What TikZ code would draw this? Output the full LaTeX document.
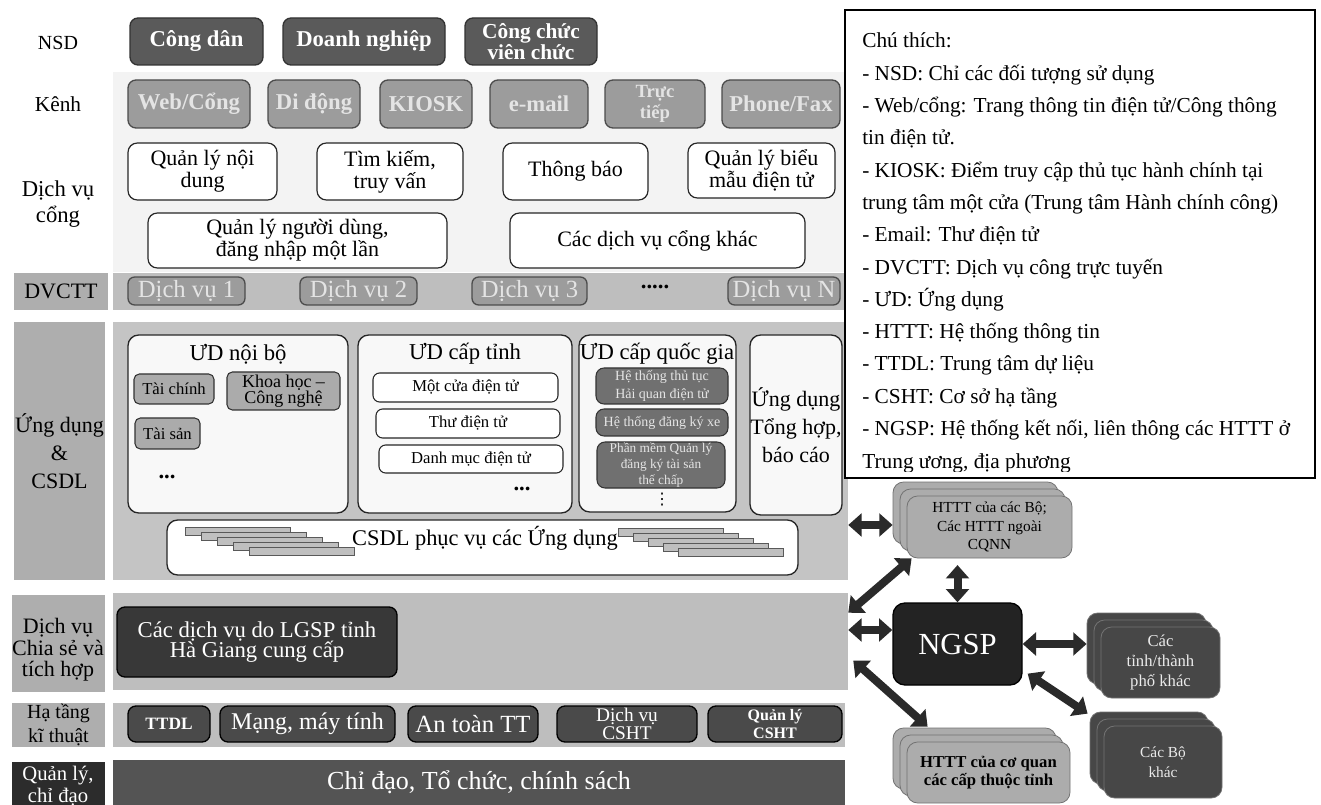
\documentclass[tikz,border=0pt]{standalone}
\usepackage{fontspec}
\setmainfont{Liberation Serif}
\newfontfamily\dejavu{DejaVu Sans}
\usetikzlibrary{calc,arrows.meta}
\newcommand{\fsz}[2]{\fontsize{#1}{#2}\selectfont}
\definecolor{cDark}{HTML}{5A5A5A}
\definecolor{cMid}{HTML}{9C9C9C}
\definecolor{cMidText}{HTML}{E4E4E4}
\definecolor{cBar}{HTML}{BEBEBE}
\definecolor{cBarApp}{HTML}{C4C4C4}
\definecolor{cLabel}{HTML}{AEAEAE}
\definecolor{cPale}{HTML}{F8F8F8}
\definecolor{cSmall}{HTML}{ABABAB}
\definecolor{cNat}{HTML}{707070}
\definecolor{cLGSP}{HTML}{383838}
\definecolor{cInfra}{HTML}{4A4A4A}
\definecolor{cMgmt}{HTML}{545454}
\definecolor{cMgmtLbl}{HTML}{2C2C2C}
\definecolor{cNGSP}{HTML}{232323}
\definecolor{cExtDark}{HTML}{474747}
\definecolor{cExtLight}{HTML}{ACACAC}
\definecolor{cArrow}{HTML}{2A2A2A}
\definecolor{cFaint}{HTML}{F3F3F3}
\newcommand{\boxat}[7]{%
  \pgfmathsetmacro{\bxw}{(#5-#3)*0.75}\pgfmathsetmacro{\bxh}{(#6-#4)*0.75}%
  \pgfmathsetmacro{\bxcx}{(#3+#5)/2}\pgfmathsetmacro{\bxcy}{(#4+#6)/2}%
  \node[minimum width=\bxw pt, minimum height=\bxh pt, #2] (#1) at (\bxcx,\bxcy) {#7};}
\newcommand{\stackat}[7]{%
  \pgfmathsetmacro{\sxa}{#3+7}\pgfmathsetmacro{\sxb}{#3+14}%
  \pgfmathsetmacro{\sya}{#4+7}\pgfmathsetmacro{\syb}{#4+14}%
  \pgfmathsetmacro{\sxc}{#5-7}\pgfmathsetmacro{\sxd}{#5-14}%
  \pgfmathsetmacro{\syc}{#6-7}\pgfmathsetmacro{\syd}{#6-14}%
  \boxat{#1-b}{#2}{#3}{#4}{\sxd}{\syd}{}
  \boxat{#1-m}{#2}{\sxa}{\sya}{\sxc}{\syc}{}
  \boxat{#1}{#2}{\sxb}{\syb}{#5}{#6}{#7}}
\tikzset{
  every node/.style={inner sep=0pt},
  lbl/.style={align=center, font=\fsz{16}{20}},
  rowlbl/.style={fill=#1, align=center, font=\fsz{16.5}{20}},
  bar/.style={fill=#1},
  nsdbox/.style={rounded corners=6pt, draw=black!80, line width=1pt, fill=cDark, text=white, font=\bfseries\fsz{17}{15}, align=center},
  chbox/.style={rounded corners=6pt, draw=black!70, line width=1pt, fill=cMid, text=cMidText, font=\bfseries\fsz{17}{13}, align=center},
  wbox/.style={rounded corners=7pt, draw=black!85, line width=0.9pt, fill=white, font=\fsz{16.5}{16.5}, align=center},
  dvbox/.style={rounded corners=5pt, draw=black!70, line width=1pt, fill=cMid, text=cMidText, font=\fsz{18.5}{18}},
  panel/.style={rounded corners=8pt, draw=black!85, line width=1pt, fill=cPale},
  ttl/.style={font=\fsz{17}{19}},
  smbox/.style={rounded corners=4pt, draw=black!80, line width=0.8pt, fill=cSmall, font=\fsz{12.5}{12}, align=center},
  wsmbox/.style={rounded corners=5pt, draw=black!85, line width=0.8pt, fill=white, font=\fsz{12.5}{13}},
  natbox/.style={rounded corners=6pt, draw=black!80, line width=0.8pt, fill=cNat, text=white!90!black, font=\fsz{10.5}{13}, align=center},
  dkbox/.style={rounded corners=6pt, draw=black, line width=1pt, fill=#1, text=white, align=center},
  extbox/.style={rounded corners=8pt, draw=black!55, line width=0.6pt, fill=#1, align=center},
  slab/.style={fill=gray!50, draw=black!65, line width=0.4pt},
  biarrow/.style={draw=cArrow, line width=6pt, <->, >={Triangle[length=10pt,width=17pt]}},
  legtxt/.style={anchor=base west, font=\fsz{16}{18}},
}
\begin{document}
\begin{tikzpicture}[x=0.75pt,y=-0.75pt]
\useasboundingbox (0,0) rectangle (1321,805);
\clip (0,0) rectangle (1321,805);
\fill[white] (0,0) rectangle (1321,805);
\fill[cFaint] (113,72) rectangle (845,136);
\fill[cFaint] (113,136) rectangle (845,272);

% ---- row labels (top) ----
\node[lbl, font=\fsz{15}{18}] (lNSD) at (58,43) {NSD};
\node[lbl] (lKenh) at (58,104) {Kênh};
\node[lbl, font=\fsz{17}{20}] (lDVC) at (58,204) {Dịch vụ\\cổng};

% ---- row bars and labels ----
\boxat{rDV}{bar=cBar}{113}{273}{848}{310}{}
\boxat{rApp}{bar=cBarApp}{113}{322}{848}{580}{}
\boxat{rShare}{bar=cBar}{113}{593}{848}{690}{}
\boxat{rInfra}{bar=cBar}{113}{703}{845}{747}{}
\boxat{rMgmt}{bar=cMgmt}{113}{760}{845}{808}{}
\node[text=white, font=\fsz{19.5}{20}] (mgmtt) at (479,782) {Chỉ đạo, Tổ chức, chính sách};

\boxat{lDV}{rowlbl=cLabel}{14}{273}{108}{310}{DVCTT}
\boxat{lApp}{rowlbl=cLabel, font=\fsz{16.5}{21}}{14}{322}{105}{580}{Ứng dụng\\\&\\CSDL}
\boxat{lShare}{rowlbl=cLabel}{12}{595}{105}{692}{}
\node[align=center, font=\fsz{16.5}{16}] (lSharet) at (58,650) {Dịch vụ\\Chia sẻ và\\tích hợp};
\boxat{lInfra}{rowlbl=cLabel, font=\fsz{15}{18}}{12}{703}{105}{747}{Hạ tầng\\kĩ thuật}
\boxat{lMgmt}{rowlbl=cMgmtLbl}{12}{762}{105}{808}{}
\node[align=center, text=white, font=\fsz{15.5}{16}] (lMgmtt) at (58,786) {Quản lý,\\chỉ đạo};

% ---- NSD ----
\boxat{cdan}{nsdbox}{130}{18}{263}{65}{Công dân}
\boxat{dnghiep}{nsdbox}{283}{18}{445}{65}{Doanh nghiệp}
\boxat{ccvc}{nsdbox, font=\bfseries\fsz{16}{16}}{465}{18}{597}{65}{Công chức\\viên chức}

% ---- Kenh ----
\boxat{web}{chbox}{128}{80}{250}{128}{Web/Cổng}
\boxat{didong}{chbox}{268}{80}{360}{128}{Di động}
\boxat{kiosk}{chbox}{380}{80}{472}{128}{KIOSK}
\boxat{email}{chbox}{490}{80}{588}{128}{e-mail}
\boxat{tructiep}{chbox, font=\bfseries\fsz{14}{16}}{605}{80}{705}{128}{Trực\\tiếp}
\boxat{fax}{chbox}{722}{80}{840}{128}{Phone/Fax}

% ---- Dich vu cong ----
\boxat{qlnd}{wbox}{128}{143}{277}{200}{Quản lý nội\\dung}
\boxat{timkiem}{wbox}{317}{143}{463}{200}{Tìm kiếm,\\truy vấn}
\boxat{thongbao}{wbox}{503}{143}{648}{200}{Thông báo}
\boxat{qlbm}{wbox}{688}{143}{835}{198}{Quản lý biểu\\mẫu điện tử}
\boxat{qlnd2}{wbox}{148}{213}{447}{268}{Quản lý người dùng,\\đăng nhập một lần}
\boxat{dvkhac}{wbox}{510}{213}{805}{268}{Các dịch vụ cổng khác}

% ---- DVCTT ----
\boxat{dv1}{dvbox}{128}{277}{245}{305}{Dịch vụ 1}
\boxat{dv2}{dvbox}{300}{277}{417}{305}{Dịch vụ 2}
\boxat{dv3}{dvbox}{472}{277}{587}{305}{Dịch vụ 3}
\node[font=\bfseries\fsz{17}{17}] (dvdots) at (655,287) {.....};
\boxat{dvn}{dvbox}{728}{277}{840}{305}{Dịch vụ N}

% ---- Ung dung ----
\boxat{udnb}{panel}{128}{335}{348}{513}{}
\node[ttl] (udnbt) at (238,354) {ƯD nội bộ};
\boxat{taichinh}{smbox}{134}{374}{214}{404}{Tài chính}
\boxat{khcn}{smbox, font=\fsz{13.5}{12}}{227}{372}{340}{410}{Khoa học –\\Công nghệ}
\boxat{taisan}{smbox}{135}{418}{200}{449}{Tài sản}
\node[font=\bfseries\fsz{17}{17}] (udnbdots) at (167,477) {...};

\boxat{udct}{panel}{358}{335}{572}{513}{}
\node[ttl] (udctt) at (465,354) {ƯD cấp tỉnh};
\boxat{motcua}{wsmbox}{373}{373}{558}{402}{Một cửa điện tử}
\boxat{thudt}{wsmbox}{376}{409}{560}{438}{Thư điện tử}
\boxat{danhmuc}{wsmbox}{379}{445}{563}{473}{Danh mục điện tử}
\node[font=\bfseries\fsz{17}{17}] (udctdots) at (522,489) {...};

\boxat{udqg}{panel}{579}{335}{736}{512}{}
\node[ttl] (udqgt) at (657,354) {ƯD cấp quốc gia};
\boxat{haiquan}{natbox}{596}{368}{728}{404}{Hệ thống thủ tục\\Hải quan điện tử}
\boxat{dangkyxe}{natbox}{596}{409}{728}{436}{Hệ thống đăng ký xe}
\boxat{tsan}{natbox, font=\fsz{10}{12}}{597}{442}{725}{488}{Phần mềm Quản lý\\đăng ký tài sản\\thế chấp}
\node[font=\dejavu\fsz{12}{12}] (udqgdots) at (662,500) {⋮};

\boxat{udth}{panel, font=\fsz{16.5}{21}, align=center}{750}{335}{842}{515}{Ứng dụng\\Tổng hợp,\\báo cáo}

% ---- CSDL ----
\boxat{csdl}{panel, fill=white}{167}{520}{798}{575}{}
\foreach \i in {0,...,4}{
  \draw[slab] ({185+16*\i},{527+5*\i}) rectangle ++(105,8);
  \draw[slab] ({618+15*\i},{528+5*\i}) rectangle ++(105,8);
}
\node[font=\fsz{16.8}{18}] (csdlt) at (485,538) {CSDL phục vụ các Ứng dụng};

% ---- Share ----
\boxat{lgsp}{dkbox=cLGSP, font=\fsz{17}{15.5}}{117}{607}{397}{677}{Các dịch vụ do LGSP tỉnh\\Hà Giang cung cấp}

% ---- Infra ----
\boxat{ttdl}{dkbox=cInfra, font=\bfseries\fsz{13}{13}}{128}{706}{210}{742}{TTDL}
\boxat{mang}{dkbox=cInfra, font=\fsz{18}{18}}{220}{706}{395}{742}{Mạng, máy tính}
\boxat{antoan}{dkbox=cInfra, font=\fsz{18.5}{18}}{408}{706}{538}{742}{An toàn TT}
\boxat{dvcsht}{dkbox=cInfra, font=\fsz{14.5}{13}}{557}{706}{697}{742}{Dịch vụ\\CSHT}
\boxat{qlcsht}{dkbox=cInfra, font=\bfseries\fsz{12}{13}}{708}{706}{842}{742}{Quản lý\\CSHT}

% ---- right network ----
\stackat{httb}{extbox=cExtLight, font=\fsz{11.5}{14}}{893}{482}{1072}{558}{HTTT của các Bộ;\\Các HTTT ngoài\\CQNN}
\boxat{ngsp}{dkbox=cNGSP, rounded corners=9pt, font=\fsz{23}{23}}{893}{603}{1022}{685}{NGSP}
\stackat{tinh}{extbox=cExtDark, text=white!92!black, font=\fsz{12.5}{15}}{1087}{613}{1220}{698}{Các\\tỉnh/thành\\phố khác}
\stackat{bo}{extbox=cExtDark, text=white!92!black, font=\fsz{11.5}{15}}{1090}{712}{1222}{798}{Các Bộ\\khác}
\stackat{httc}{extbox=cExtLight, font=\bfseries\fsz{12.5}{14}}{893}{728}{1070}{803}{HTTT của cơ quan\\các cấp thuộc tỉnh}

% ---- arrows ----
\coordinate (a1) at ($(httb-b.west)+(0,12)$);
\draw[biarrow] (rApp.east |- a1) -- (a1);
\draw[biarrow] ($(rShare.north east)+(0,20)$) -- ($(httb.south west)+(5,0)$);
\draw[biarrow, shorten <=5pt] (ngsp.north |- httb.south) -- (ngsp.north);
\coordinate (a4) at ($(ngsp.west)+(0,-14)$);
\draw[biarrow] (rShare.east |- a4) -- (a4);
\draw[biarrow] ($(rShare.east)+(5,19)$) -- ($(httc-b.north west)+(35,-1)$);
\draw[biarrow] (ngsp.east) -- (ngsp.east -| tinh-b.west);
\draw[biarrow] ($(ngsp.south east)+(5,-12)$) -- ($(bo-b.north west)+(-2,2)$);

% ---- legend ----
\boxat{legend}{fill=white, draw=black, line width=0.9pt}{845}{10}{1315}{478}{}
\begin{scope}
\clip (846,11) rectangle (1314,471);
\node[legtxt] (lg0) at (862,48) {Chú thích:};
\node[legtxt] (lg1) at (862,80.3) {- NSD: Chỉ các đối tượng sử dụng};
\node[legtxt] (lg2) at (862,112.6) {- Web/cổng: Trang thông tin điện tử/Công thông};
\node[legtxt] (lg3) at (862,144.9) {tin điện tử.};
\node[legtxt] (lg4) at (862,177.2) {- KIOSK: Điểm truy cập thủ tục hành chính tại};
\node[legtxt] (lg5) at (862,209.5) {trung tâm một cửa (Trung tâm Hành chính công)};
\node[legtxt] (lg6) at (862,241.8) {- Email: Thư điện tử};
\node[legtxt] (lg7) at (862,274.1) {- DVCTT: Dịch vụ công trực tuyến};
\node[legtxt] (lg8) at (862,306.4) {- ƯD: Ứng dụng};
\node[legtxt] (lg9) at (862,338.7) {- HTTT: Hệ thống thông tin};
\node[legtxt] (lg10) at (862,371) {- TTDL: Trung tâm dự liệu};
\node[legtxt] (lg11) at (862,403.3) {- CSHT: Cơ sở hạ tầng};
\node[legtxt] (lg12) at (862,435.6) {- NGSP: Hệ thống kết nối, liên thông các HTTT ở};
\node[legtxt] (lg13) at (862,469) {Trung ương, địa phương};
\end{scope}
\end{tikzpicture}
\end{document}
